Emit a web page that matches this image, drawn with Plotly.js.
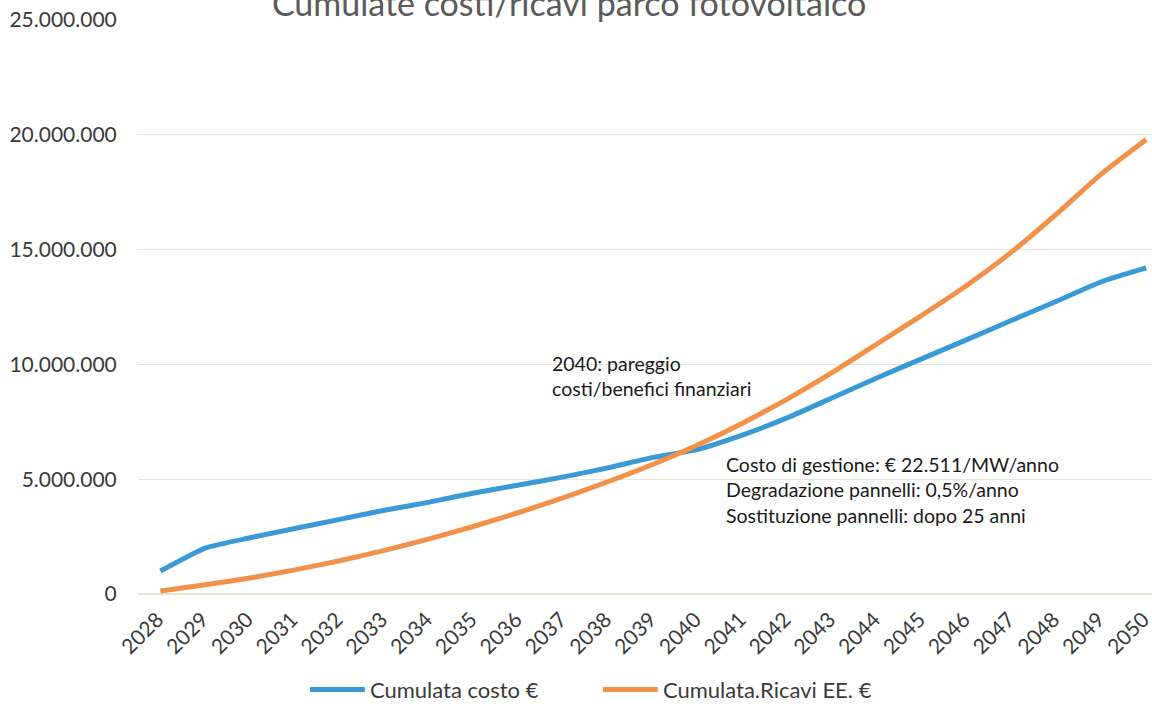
<!DOCTYPE html>
<html>
<head>
<meta charset="utf-8">
<script src="https://cdn.plot.ly/plotly-3.0.1.min.js"></script>
<style>
  html, body { margin: 0; padding: 0; background: #ffffff; }
  #chart { width: 1152px; height: 706px; }
</style>
</head>
<body>
<div id="chart"></div>
<script>
const years = [2028, 2029, 2030, 2031, 2032, 2033, 2034, 2035, 2036, 2037, 2038, 2039,
               2040, 2041, 2042, 2043, 2044, 2045, 2046, 2047, 2048, 2049, 2050];
const yearLabels = years.map(String);

const cumulataCosto = [1000000, 2000000, 2450000, 2850000, 3250000, 3650000, 4000000, 4400000,
                       4750000, 5100000, 5500000, 5950000, 6300000, 6930000, 7680000, 8550000,
                       9420000, 10250000, 11080000, 11920000, 12750000, 13600000, 14200000];

const cumulataRicavi = [130000, 400000, 700000, 1050000, 1450000, 1900000, 2400000, 2950000,
                        3550000, 4200000, 4900000, 5650000, 6500000, 7450000, 8500000, 9650000,
                        10900000, 12150000, 13450000, 14900000, 16550000, 18300000, 19800000];

const yTicks = [0, 5000000, 10000000, 15000000, 20000000, 25000000];

const seriesNames = ["Cumulata costo €", "Cumulata.Ricavi EE. €"];
const titleText = "Cumulate costi/ricavi parco fotovoltaico";
const noteBreakEven = "2040: pareggio<br>costi/benefici finanziari";
const noteParams = "Costo di gestione: € 22.511/MW/anno<br>Degradazione pannelli: 0,5%/anno<br>Sostituzione pannelli: dopo 25 anni";

const FONT = "Lato, 'Open Sans', sans-serif";

const traces = [
  {
    x: years, y: cumulataCosto, name: seriesNames[0], type: "scatter", mode: "lines",
    line: { color: "#3a9ad6", width: 5, shape: "spline", smoothing: 0.5 }
  },
  {
    x: years, y: cumulataRicavi, name: seriesNames[1], type: "scatter", mode: "lines",
    line: { color: "#f2914a", width: 5, shape: "spline", smoothing: 0.5 }
  }
];

const layout = {
  width: 1152, height: 706,
  paper_bgcolor: "#ffffff", plot_bgcolor: "#ffffff",
  margin: { l: 138, r: 0, t: 20, b: 112 },
  separators: ",.",
  font: { family: FONT, color: "#3a3a3a", size: 19 },
  title: {
    text: titleText,
    font: { family: FONT, size: 34, color: "#5a5a5a" },
    xref: "container", yref: "container",
    x: 0.494, xanchor: "center",
    y: 0.994, yanchor: "middle"
  },
  xaxis: {
    type: "linear",
    range: [2027.5, 2050.13],
    tickmode: "array", tickvals: years, ticktext: yearLabels,
    tickangle: -45,
    ticklabeloverflow: "allow",
    ticklabelshift: -3,
    tickfont: { family: FONT, size: 21, color: "#3a3a3a" },
    showgrid: false, zeroline: false, showline: false,
    ticks: "outside", ticklen: 4, tickcolor: "rgba(0,0,0,0)"
  },
  yaxis: {
    range: [0, 25000000],
    tickmode: "array", tickvals: yTicks,
    tickformat: ",d",
    tickfont: { family: FONT, size: 21, color: "#3a3a3a" },
    showgrid: true, gridcolor: "#e6e6d8", gridwidth: 1.2,
    zeroline: true, zerolinecolor: "#e6e6d8", zerolinewidth: 1.2,
    showline: false,
    ticks: "outside", ticklen: 16, tickcolor: "rgba(0,0,0,0)"
  },
  showlegend: true,
  legend: {
    orientation: "h",
    xref: "container", yref: "container",
    x: 0.519, xanchor: "center",
    y: 0.023, yanchor: "middle",
    font: { family: FONT, size: 22, color: "#3a3a3a" },
    itemwidth: 55,
    entrywidth: 223,
    bgcolor: "rgba(0,0,0,0)"
  },
  annotations: [
    {
      text: noteBreakEven, xref: "paper", yref: "paper",
      x: 0.406, y: 0.425, xanchor: "left", yanchor: "top",
      align: "left", showarrow: false,
      font: { family: FONT, size: 19.5, color: "#1a1a1a" }
    },
    {
      text: noteParams, xref: "paper", yref: "paper",
      x: 0.578, y: 0.25, xanchor: "left", yanchor: "top",
      align: "left", showarrow: false,
      font: { family: FONT, size: 19.5, color: "#1a1a1a" }
    }
  ]
};

Plotly.newPlot("chart", traces, layout, { displayModeBar: false, staticPlot: true });
</script>
</body>
</html>
